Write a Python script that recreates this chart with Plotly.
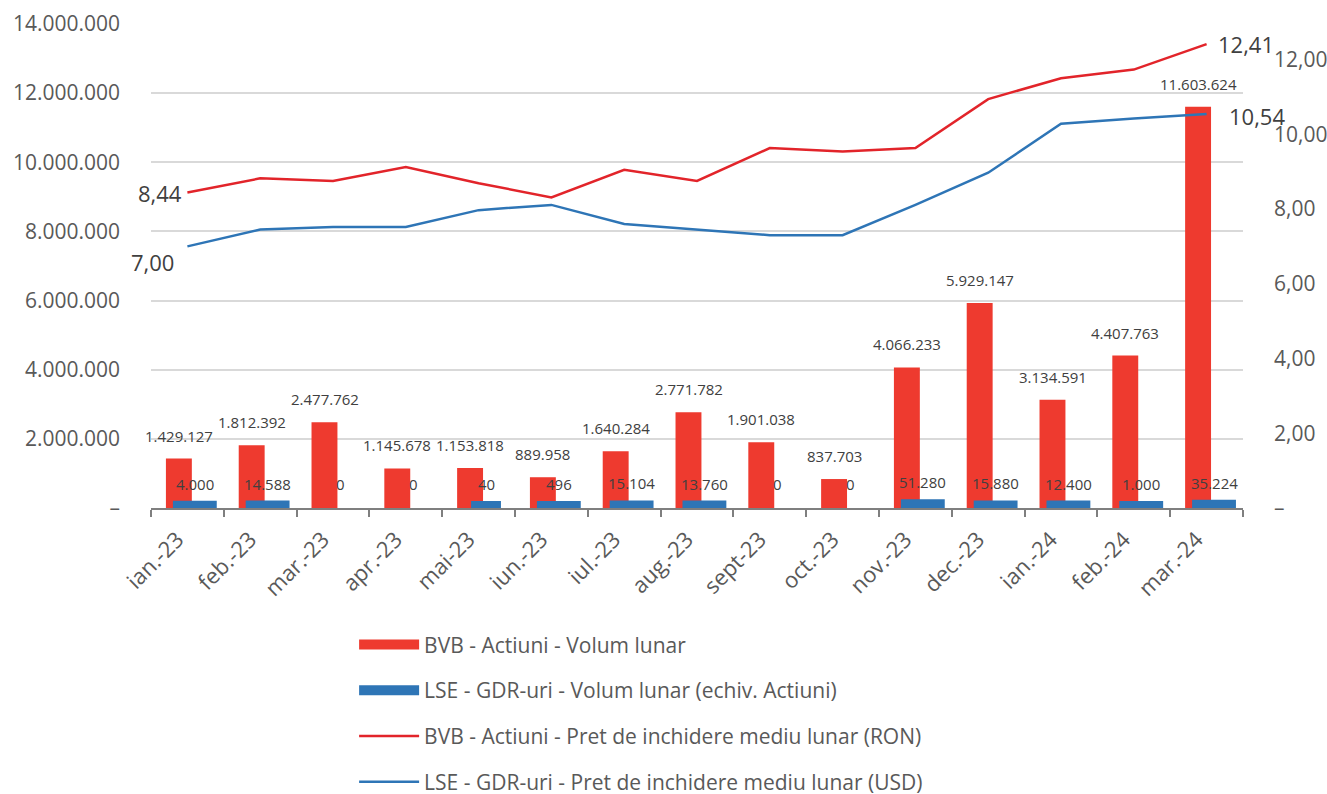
import plotly.graph_objects as go

months = ['ian.-23', 'feb.-23', 'mar.-23', 'apr.-23', 'mai-23', 'iun.-23', 'iul.-23',
          'aug.-23', 'sept-23', 'oct.-23', 'nov.-23', 'dec.-23', 'ian.-24', 'feb.-24', 'mar.-24']

bvb_volume = [1429127, 1812392, 2477762, 1145678, 1153818, 889958, 1640284,
              2771782, 1901038, 837703, 4066233, 5929147, 3134591, 4407763, 11603624]
lse_volume = [4000, 14588, 0, 0, 40, 496, 15104,
              13760, 0, 0, 51280, 15880, 12400, 1000, 35224]

bvb_price = [8.44, 8.82, 8.75, 9.12, 8.69, 8.31, 9.05,
             8.75, 9.63, 9.54, 9.63, 10.94, 11.50, 11.73, 12.41]
lse_price = [7.00, 7.45, 7.52, 7.52, 7.97, 8.11, 7.60,
             7.46, 7.30, 7.30, 8.11, 8.97, 10.28, 10.42, 10.54]

left_ticks = [0, 2000000, 4000000, 6000000, 8000000, 10000000, 12000000, 14000000]
right_ticks = [0, 2, 4, 6, 8, 10, 12]

names = ['BVB - Actiuni - Volum lunar',
         'LSE - GDR-uri - Volum lunar (echiv. Actiuni)',
         'BVB - Actiuni - Pret de inchidere mediu lunar (RON)',
         'LSE - GDR-uri - Pret de inchidere mediu lunar (USD)']

RED = '#EE3A2F'
BLUE = '#2E75B6'
RED_LINE = '#E2242A'
TEXT = '#404040'
AXIS_TEXT = '#595959'
FONT = 'Open Sans'


def thousands(v):
    return '–' if v == 0 else f'{v:,}'.replace(',', '.')


def dec2(v):
    return '–' if v == 0 else f'{v:.2f}'.replace('.', ',')


fig = go.Figure()

fig.add_trace(go.Bar(
    x=months, y=bvb_volume, name=names[0],
    marker=dict(color=RED, line=dict(width=0)),
    width=0.356, offset=-0.295,
    showlegend=False
))
# the GDR volumes are tiny next to the BVB ones: a thick outline keeps them visible
fig.add_trace(go.Bar(
    x=months, y=lse_volume, name=names[1],
    marker=dict(color=BLUE,
                line=dict(color=BLUE, width=[14 if v > 0 else 0 for v in lse_volume])),
    width=0.41, offset=-0.103,
    showlegend=False
))
fig.add_trace(go.Scatter(
    x=months, y=bvb_price, yaxis='y2', name=names[2],
    mode='lines', line=dict(color=RED_LINE, width=2.5),
    showlegend=False
))
fig.add_trace(go.Scatter(
    x=months, y=lse_price, yaxis='y2', name=names[3],
    mode='lines', line=dict(color=BLUE, width=2.5),
    showlegend=False
))

# legend-only entries so the swatches look like the original ones
legend_styles = [(RED, 14), (BLUE, 21), (RED_LINE, 2.5), (BLUE, 2.5)]
for i, (name, (col, w)) in enumerate(zip(names, legend_styles)):
    fig.add_trace(go.Scatter(
        x=[None], y=[None], name=name, mode='lines',
        line=dict(color=col, width=w), legendgroup=str(i)
    ))

annotations = []
# data labels above the bars
for m, v in zip(months, bvb_volume):
    annotations.append(dict(x=m, y=v, xref='x', yref='y', text=thousands(v),
                            showarrow=False, yshift=23, xshift=-8.5,
                            font=dict(size=15, color=TEXT, family=FONT)))
for m, v in zip(months, lse_volume):
    annotations.append(dict(x=m, y=v, xref='x', yref='y', text=str(v) if v == 0 else thousands(v),
                            showarrow=False, yshift=24, xshift=7.5,
                            font=dict(size=15, color=TEXT, family=FONT)))

# first / last values of the price lines
end_font = dict(size=22, color=TEXT, family=FONT)
annotations += [
    dict(x=months[0], y=bvb_price[0], xref='x', yref='y2', text=dec2(bvb_price[0]),
         showarrow=False, xanchor='right', xshift=-3, font=end_font),
    dict(x=months[0], y=lse_price[0], xref='x', yref='y2', text=dec2(lse_price[0]),
         showarrow=False, xanchor='right', xshift=-11, yshift=-16, font=end_font),
    dict(x=months[-1], y=bvb_price[-1], xref='x', yref='y2', text=dec2(bvb_price[-1]),
         showarrow=False, xanchor='left', xshift=9, font=end_font),
    dict(x=months[-1], y=lse_price[-1], xref='x', yref='y2', text=dec2(lse_price[-1]),
         showarrow=False, xanchor='left', xshift=20, yshift=-2, font=end_font),
]

fig.update_layout(
    width=1327, height=794,
    margin=dict(l=151, r=84, t=24, b=286, autoexpand=False),
    paper_bgcolor='white', plot_bgcolor='white',
    font=dict(family=FONT, color=AXIS_TEXT),
    barmode='overlay',
    annotations=annotations,
    xaxis=dict(
        type='category', automargin=False, range=[-0.5, 14.5],
        showline=True, linecolor='#7F7F7F', linewidth=2,
        ticks='outside', tickson='boundaries', ticklen=7, tickcolor='#7F7F7F', tickwidth=2,
        tickangle=-45, tickfont=dict(size=22, color=AXIS_TEXT),
        ticklabelstandoff=8, ticklabelshift=-10,
        showgrid=False,
    ),
    yaxis=dict(
        range=[0, 14000000], automargin=False,
        tickvals=left_ticks, ticktext=[thousands(v) for v in left_ticks],
        tickfont=dict(size=21, color=AXIS_TEXT),
        showgrid=True, gridcolor='#D9D9D9', gridwidth=1.5,
        zeroline=False, showline=False,
        ticklabelstandoff=30,
    ),
    yaxis2=dict(
        overlaying='y', side='right', automargin=False,
        range=[0, 12.95],
        tickvals=right_ticks, ticktext=[dec2(v) for v in right_ticks],
        tickfont=dict(size=21, color=AXIS_TEXT),
        showgrid=False, zeroline=False, showline=False,
        ticklabelstandoff=30,
    ),
    legend=dict(
        x=0.186, y=-0.2405, xanchor='left', yanchor='top',
        orientation='v', traceorder='grouped', tracegroupgap=15.4,
        itemwidth=60,
        font=dict(size=21, color=AXIS_TEXT, family=FONT),
    ),
)

fig.write_html('out.html', config={'displayModeBar': False},
               post_script="document.body.style.margin = '0';")
